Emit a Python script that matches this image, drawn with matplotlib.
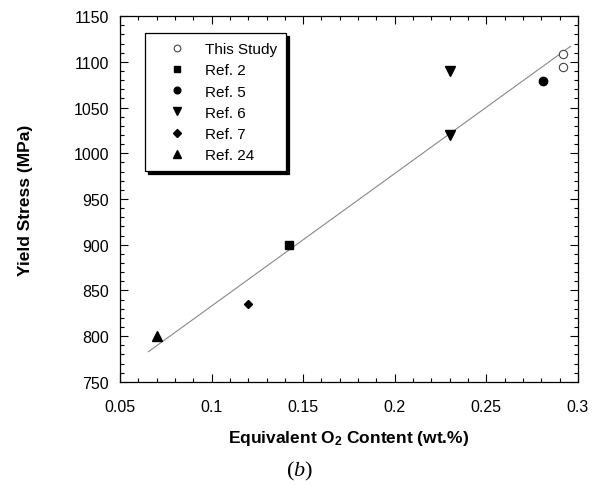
import numpy as np
import matplotlib.pyplot as plt
from matplotlib.ticker import MultipleLocator

plt.rcParams['font.family'] = ['Liberation Sans', 'DejaVu Sans']
plt.rcParams['mathtext.fontset'] = 'custom'
plt.rcParams['mathtext.it'] = 'Liberation Serif:italic'
plt.rcParams['mathtext.rm'] = 'Liberation Serif'
plt.rcParams['mathtext.default'] = 'regular'

# data
study_x = [0.292, 0.292]
study_y = [1109, 1094]
ref2_x = [0.142]
ref2_y = [900]
ref5_x = [0.281]
ref5_y = [1079]
ref6_x = [0.230, 0.230]
ref6_y = [1090, 1020]
ref7_x = [0.120]
ref7_y = [835]
ref24_x = [0.070]
ref24_y = [800]
fit_x = [0.0655, 0.296]
fit_y = [783, 1117]
xticks = [0.05, 0.1, 0.15, 0.2, 0.25, 0.3]
xtick_labels = ['0.05', '0.1', '0.15', '0.2', '0.25', '0.3']

fig = plt.figure(figsize=(5.97, 4.89), dpi=100)
ax = fig.add_axes([0.201, 0.217, 0.767, 0.748])

ax.plot(fit_x, fit_y, color='#888888', lw=0.8, zorder=2)

ax.plot(study_x, study_y, 'o', ms=6, mfc='white', mec='#444444', mew=0.8, ls='none', label='This Study')
ax.plot(ref2_x, ref2_y, 's', ms=5.5, color='black', ls='none', label='Ref. 2')
ax.plot(ref5_x, ref5_y, 'o', ms=6, color='black', ls='none', label='Ref. 5')
ax.plot(ref6_x, ref6_y, 'v', ms=6.5, color='black', ls='none', label='Ref. 6')
ax.plot(ref7_x, ref7_y, 'D', ms=4.5, color='black', ls='none', label='Ref. 7')
ax.plot(ref24_x, ref24_y, '^', ms=6.5, color='black', ls='none', label='Ref. 24')

ax.set_xlim(0.05, 0.3)
ax.set_ylim(750, 1150)
ax.xaxis.set_minor_locator(MultipleLocator(0.01))
ax.yaxis.set_major_locator(MultipleLocator(50))
ax.yaxis.set_minor_locator(MultipleLocator(10))
ax.set_xticks(xticks, xtick_labels)
ax.tick_params(which='both', direction='in', top=True, right=True, labelsize=11.5, width=0.8)
ax.tick_params(which='major', length=6)
ax.tick_params(which='minor', length=3)
ax.tick_params(axis='x', pad=12)
ax.tick_params(axis='y', pad=8)
for s in ax.spines.values():
    s.set_linewidth(0.9)

ax.set_xlabel('Equivalent O$_2$ Content (wt.%)', fontsize=12.5, fontweight='bold')
ax.set_ylabel('Yield Stress (MPa)', fontsize=12.5, fontweight='bold')
ax.xaxis.set_label_coords(0.5, -0.125)
ax.yaxis.set_label_coords(-0.19, 0.5)

leg = ax.legend(loc='upper left', bbox_to_anchor=(0.0546, 0.9536), borderaxespad=0,
                fontsize=11, frameon=True, fancybox=False,
                shadow={'color': 'black', 'alpha': 1},
                edgecolor='black', framealpha=1, borderpad=0.6, labelspacing=0.47,
                handletextpad=0.3, handlelength=3.0, numpoints=1, markerscale=0.8)
leg.get_frame().set_linewidth(0.9)

fig.text(0.501, 0.035, '($\\mathit{b}$)', fontsize=16, family='Liberation Serif',
         ha='center', va='center')

fig.savefig('out.png', dpi=100)
